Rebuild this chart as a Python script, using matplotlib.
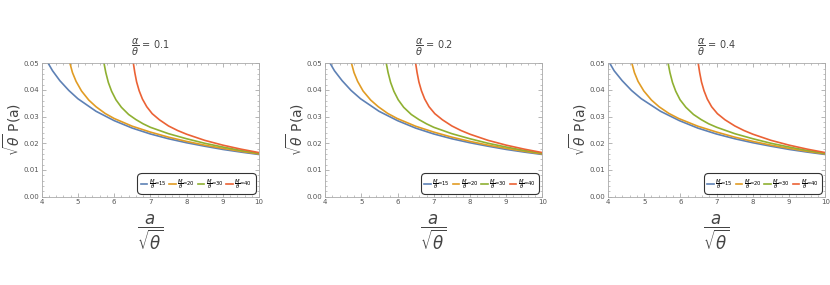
import numpy as np
import matplotlib
matplotlib.use("Agg")
import matplotlib.pyplot as plt
from matplotlib.ticker import MultipleLocator

# curve values (shared y levels, x per panel)
ratios = [0.1, 0.2, 0.4]
m_labels = ["15", "20", "30", "40"]
colors = ["#5E81B5", "#E19C24", "#8FB032", "#EB6235"]

blue_y = [0.052, 0.050, 0.0472, 0.0435, 0.0398, 0.0367, 0.0320, 0.0285, 0.0257,
          0.0235, 0.0217, 0.0202, 0.0189, 0.0177, 0.0167, 0.0158]
blue_x = [
    [4.10, 4.18, 4.30, 4.50, 4.75, 5.00, 5.50, 6.00, 6.50, 7.0, 7.5, 8.0, 8.5, 9.0, 9.5, 10.0],
    [4.06, 4.14, 4.26, 4.47, 4.72, 4.98, 5.49, 6.00, 6.50, 7.0, 7.5, 8.0, 8.5, 9.0, 9.5, 10.0],
    [3.97, 4.05, 4.17, 4.39, 4.65, 4.92, 5.45, 5.97, 6.48, 6.99, 7.5, 8.0, 8.5, 9.0, 9.5, 10.0],
]

yellow_y = [0.053, 0.050, 0.0465, 0.0432, 0.0396, 0.0362, 0.0337, 0.0312, 0.0293,
            0.0264, 0.0242, 0.0223, 0.0207, 0.0193, 0.0181, 0.0170, 0.0160]
yellow_x = [
    [4.72, 4.78, 4.85, 4.95, 5.10, 5.30, 5.50, 5.75, 6.00, 6.50, 7.0, 7.5, 8.0, 8.5, 9.0, 9.5, 10.0],
    [4.67, 4.73, 4.80, 4.90, 5.05, 5.26, 5.47, 5.73, 5.99, 6.50, 7.0, 7.5, 8.0, 8.5, 9.0, 9.5, 10.0],
    [4.60, 4.66, 4.73, 4.83, 4.99, 5.20, 5.41, 5.68, 5.95, 6.48, 7.0, 7.5, 8.0, 8.5, 9.0, 9.5, 10.0],
]

green_y = [0.053, 0.050, 0.0465, 0.0428, 0.0395, 0.0363, 0.0335, 0.0308, 0.0289,
           0.0273, 0.0260, 0.0236, 0.0217, 0.0200, 0.0186, 0.0173, 0.0162]
green_x = [
    [5.68, 5.72, 5.77, 5.84, 5.93, 6.05, 6.20, 6.40, 6.60, 6.80, 7.0, 7.5, 8.0, 8.5, 9.0, 9.5, 10.0],
    [5.65, 5.69, 5.74, 5.81, 5.90, 6.02, 6.17, 6.38, 6.59, 6.80, 7.0, 7.5, 8.0, 8.5, 9.0, 9.5, 10.0],
    [5.62, 5.66, 5.71, 5.78, 5.87, 5.99, 6.15, 6.36, 6.57, 6.78, 7.0, 7.5, 8.0, 8.5, 9.0, 9.5, 10.0],
]

red_y = [0.053, 0.050, 0.0465, 0.0430, 0.0397, 0.0366, 0.0337, 0.0311, 0.0288,
         0.0265, 0.0248, 0.0234, 0.0211, 0.0193, 0.0178, 0.0165]
red_x = [
    [6.50, 6.53, 6.57, 6.62, 6.69, 6.78, 6.90, 7.05, 7.25, 7.5, 7.75, 8.0, 8.5, 9.0, 9.5, 10.0],
    [6.47, 6.50, 6.54, 6.59, 6.66, 6.75, 6.87, 7.03, 7.24, 7.5, 7.75, 8.0, 8.5, 9.0, 9.5, 10.0],
    [6.46, 6.49, 6.53, 6.58, 6.65, 6.74, 6.86, 7.02, 7.23, 7.5, 7.75, 8.0, 8.5, 9.0, 9.5, 10.0],
]

curves_x = [blue_x, yellow_x, green_x, red_x]
curves_y = [blue_y, yellow_y, green_y, red_y]

fig = plt.figure(figsize=(8.3, 2.85), dpi=100)
lefts = [0.0502, 0.3916, 0.7325]
gray = "#555555"

for p, r in enumerate(ratios):
    ax = fig.add_axes([lefts[p], 0.310, 0.262, 0.468])
    for c in range(4):
        ax.plot(curves_x[c][p], curves_y[c], color=colors[c], lw=1.2,
                label=r"$\dfrac{M}{\theta}$=" + m_labels[c])
    ax.set_xlim(4, 10)
    ax.set_ylim(0, 0.05)
    ax.xaxis.set_major_locator(MultipleLocator(1))
    ax.xaxis.set_minor_locator(MultipleLocator(0.2))
    ax.yaxis.set_major_locator(MultipleLocator(0.01))
    ax.yaxis.set_minor_locator(MultipleLocator(0.002))
    ax.yaxis.set_major_formatter(lambda v, pos: f"{v:.2f}")
    ax.tick_params(which="both", direction="in", top=True, right=True,
                   colors="#aaaaaa", labelcolor=gray, labelsize=5, pad=2)
    ax.tick_params(which="major", length=3, width=0.6)
    ax.tick_params(which="minor", length=1.5, width=0.5)
    for s in ax.spines.values():
        s.set_color("#aaaaaa")
        s.set_linewidth(0.6)

    leg = ax.legend(loc="lower right", ncol=4, fontsize=3.8, handlelength=1.2,
                    handletextpad=0.3, columnspacing=0.5, borderpad=0.4,
                    frameon=True, fancybox=True, bbox_to_anchor=(0.99, 0.01))
    leg.get_frame().set_edgecolor("black")
    leg.get_frame().set_linewidth(0.8)
    leg.get_frame().set_boxstyle("round,pad=0.3,rounding_size=0.8")

    cx = lefts[p] + 0.131
    fig.text(cx, 0.835, r"$\dfrac{\alpha}{\theta}$ = " + str(r), ha="center",
             va="center", fontsize=7, color="#444444")
    fig.text(cx, 0.185, r"$\dfrac{a}{\sqrt{\theta}}$", ha="center", va="center",
             fontsize=12, color="#444444")
    fig.text(lefts[p] - 0.036, 0.545, r"$\sqrt{\theta}$ P(a)", ha="center",
             va="center", rotation=90, fontsize=10, color="#444444")

fig.savefig("out.png", dpi=100)
